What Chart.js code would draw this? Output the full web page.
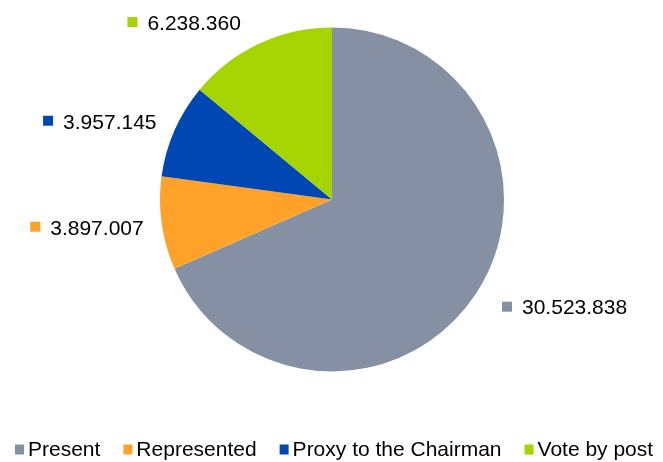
<!DOCTYPE html>
<html>
<head>
<meta charset="utf-8">
<script src="https://cdn.jsdelivr.net/npm/chart.js@4/dist/chart.umd.min.js"></script>
<style>
  html, body { margin: 0; padding: 0; background: #ffffff; }
  #wrap { width: 663px; height: 462px; }
</style>
</head>
<body>
<div id="wrap"><canvas id="c" width="663" height="462"></canvas></div>
<script>
const categories = ['Present', 'Represented', 'Proxy to the Chairman', 'Vote by post'];
const votes = [30523838, 3897007, 3957145, 6238360];
const sliceColors = ['#8591A3', '#FFA229', '#0047B3', '#A6D400'];

const FONT = '21px "Liberation Sans", Arial, sans-serif';

function fmt(v) {
  return String(v).replace(/\B(?=(\d{3})+(?!\d))/g, '.');
}

const dataLabels = {
  id: 'dataLabels',
  afterDatasetsDraw(chart) {
    const ctx = chart.ctx;
    const meta = chart.getDatasetMeta(0);
    ctx.save();
    ctx.font = FONT;
    ctx.textBaseline = 'middle';
    meta.data.forEach((arc, i) => {
      const p = arc.getProps(['x', 'y', 'startAngle', 'endAngle', 'outerRadius'], true);
      const mid = (p.startAngle + p.endAngle) / 2;
      const R = p.outerRadius;
      const rightSide = Math.cos(mid) >= 0;
      const ax = p.x + Math.cos(mid) * R + (rightSide ? 26 : -18);
      const ay = p.y + Math.sin(mid) * (R + 24) + 2;
      const text = fmt(chart.data.datasets[0].data[i]);
      const tw = ctx.measureText(text).width;
      const total = 10 + 10 + tw;
      const left = rightSide ? ax : ax - total;
      ctx.fillStyle = chart.data.datasets[0].backgroundColor[i];
      ctx.fillRect(left, ay - 7, 10, 10);
      ctx.fillStyle = '#000000';
      ctx.textAlign = 'left';
      ctx.fillText(text, left + 20, ay);
    });
    ctx.restore();
  }
};

const bottomLegend = {
  id: 'bottomLegend',
  afterDraw(chart) {
    const ctx = chart.ctx;
    ctx.save();
    ctx.font = FONT;
    ctx.textBaseline = 'middle';
    ctx.textAlign = 'left';
    let x = 15;
    const y = 450.5;
    chart.data.labels.forEach((lab, i) => {
      ctx.fillStyle = chart.data.datasets[0].backgroundColor[i];
      ctx.fillRect(x, y - 6, 9, 10);
      x += 13;
      ctx.fillStyle = '#000000';
      ctx.fillText(lab, x, y);
      x += ctx.measureText(lab).width + 23;
    });
    ctx.restore();
  }
};

new Chart(document.getElementById('c'), {
  type: 'pie',
  data: {
    labels: categories,
    datasets: [{
      data: votes,
      backgroundColor: sliceColors,
      borderWidth: 0
    }]
  },
  options: {
    responsive: false,
    devicePixelRatio: 1,
    animation: false,
    events: [],
    layout: { padding: { top: 27, bottom: 90, left: 160, right: 159 } },
    plugins: {
      legend: { display: false },
      tooltip: { enabled: false }
    }
  },
  plugins: [dataLabels, bottomLegend]
});
</script>
</body>
</html>
